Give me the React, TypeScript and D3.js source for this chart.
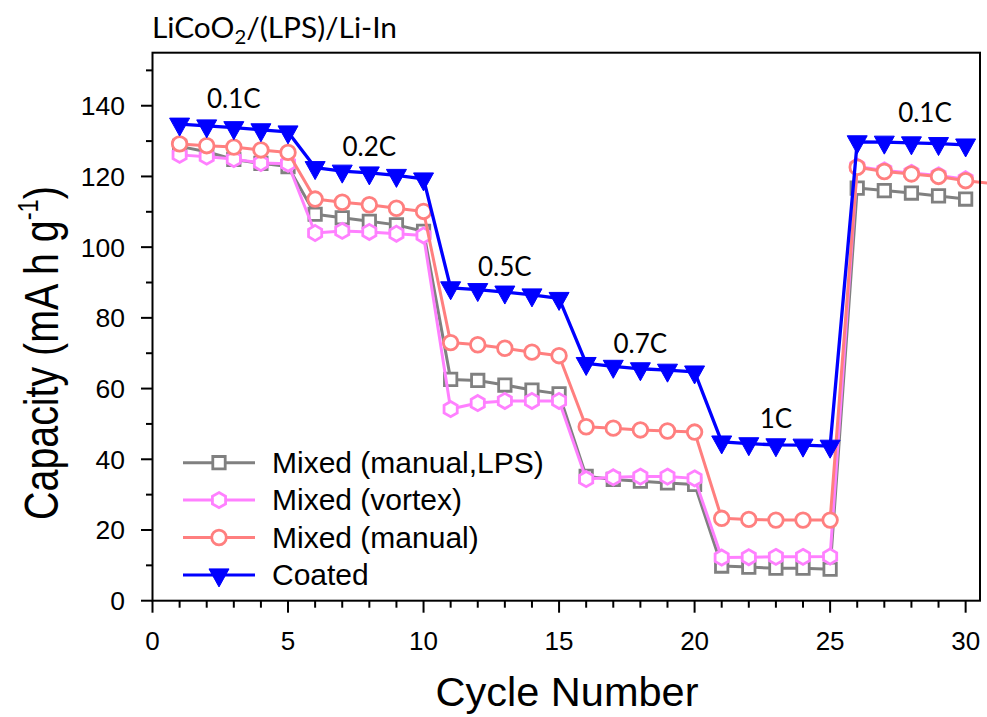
import React from "react";
import * as d3 from "d3";

const W = 987;
const H = 717;

const cycles = [1, 2, 3, 4, 5, 6, 7, 8, 9, 10, 11, 12, 13, 14, 15, 16, 17, 18, 19, 20, 21, 22, 23, 24, 25, 26, 27, 28, 29, 30, 31];

const grayValues = [128.5, 127.0, 124.8, 123.7, 122.8, 109.3, 108.3, 107.3, 106.3, 104.5, 62.6, 62.3, 61.0, 59.6, 58.5, 35.2, 34.3, 33.8, 33.3, 32.9, 9.8, 9.5, 9.2, 9.2, 8.9, 116.7, 116.0, 115.3, 114.5, 113.6];
const pinkValues = [126.1, 125.6, 124.9, 123.8, 123.6, 104.0, 104.6, 104.3, 103.8, 103.3, 54.2, 55.9, 56.5, 56.5, 56.5, 34.4, 34.9, 35.1, 35.1, 34.6, 12.2, 12.3, 12.4, 12.4, 12.5, 122.8, 121.7, 121.0, 120.3, 119.2];
const redValues = [129.2, 128.7, 128.3, 127.5, 126.8, 113.6, 112.7, 112.0, 111.0, 110.1, 73.0, 72.4, 71.4, 70.3, 69.3, 49.2, 48.8, 48.3, 48.0, 47.7, 23.3, 23.0, 22.8, 22.8, 22.8, 122.6, 121.4, 120.7, 120.0, 118.8, 118.0];
const blueValues = [134.8, 134.3, 133.8, 133.2, 132.6, 122.5, 121.5, 121.0, 120.3, 119.3, 88.5, 88.0, 87.3, 86.5, 85.5, 67.1, 66.3, 65.6, 65.2, 64.7, 44.9, 44.4, 44.1, 44.0, 43.7, 129.8, 129.7, 129.5, 129.3, 128.9];

const seriesNames = ["Mixed (manual,LPS)", "Mixed (vortex)", "Mixed (manual)", "Coated"];
const seriesColors = ["#808080", "#ff80ff", "#ff7f7f", "#0000ff"];
const seriesMarkers = ["square", "hexagon", "circle", "triangleDown"];

const rateLabels = ["0.1C", "0.2C", "0.5C", "0.7C", "1C", "0.1C"];
const rateX = [3, 8, 13, 18, 23, 28.5];
const rateY = [139.4, 125.8, 91.9, 70.1, 48.9, 135.5];

const xTicks = [0, 5, 10, 15, 20, 25, 30];
const yTicks = [0, 20, 40, 60, 80, 100, 120, 140];

const x = d3.scaleLinear().domain([0, 30.53]).range([152.5, 980]);
const y = d3.scaleLinear().domain([0, 155]).range([600.7, 52.7]);

function markerPath(kind: string): string {
  if (kind === "square") {
    const s = 6.2;
    return `M${-s},${-s}H${s}V${s}H${-s}Z`;
  }
  if (kind === "hexagon") {
    const r = 7.6;
    const pts = d3.range(6).map((i) => {
      const a = (-90 + 60 * i) * (Math.PI / 180);
      return [r * Math.cos(a), r * Math.sin(a)];
    });
    return "M" + pts.map((p) => p.join(",")).join("L") + "Z";
  }
  if (kind === "circle") {
    const r = 7.3;
    return `M${-r},0A${r},${r} 0 1,0 ${r},0A${r},${r} 0 1,0 ${-r},0Z`;
  }
  const w = 10;
  const h = 18;
  return `M${-w},${-h / 3}L${w},${-h / 3}L0,${(2 * h) / 3}Z`;
}

const AXIS_FONT = "'Liberation Sans', Arial, sans-serif";
const LABEL_FONT = "Lato, 'Open Sans', sans-serif";

export default function App() {
  const allValues = [grayValues, pinkValues, redValues, blueValues];
  const line = d3
    .line<[number, number]>()
    .x((d) => x(d[0]))
    .y((d) => y(d[1]));

  const xMinor = d3.range(0, 31, 1);
  const yMinor = d3.range(0, 151, 10);

  const legendY = [462.7, 500.1, 537.5, 574.9];

  return (
    <svg width={W} height={H} style={{ position: "absolute", left: 0, top: 0, background: "#fff" }}>
      <rect x={0} y={0} width={W} height={H} fill="#fff" />
      {allValues.map((vals, si) => {
        const pts: [number, number][] = vals.map((v, i) => [cycles[i], v]);
        const color = seriesColors[si];
        const kind = seriesMarkers[si];
        const filled = kind === "triangleDown";
        return (
          <g key={si}>
            <path d={line(pts) || ""} fill="none" stroke={color} strokeWidth={filled ? 3.3 : 3} strokeLinejoin="round" />
            {pts
              .filter((p) => p[0] <= 30)
              .map((p, i) => (
                <path
                  key={i}
                  d={markerPath(kind)}
                  transform={`translate(${x(p[0])},${y(p[1])})`}
                  fill={filled ? color : "#fff"}
                  stroke={color}
                  strokeWidth={filled ? 1 : 2.8}
                  strokeLinejoin="miter"
                />
              ))}
          </g>
        );
      })}

      <rect x={x(0)} y={y(155)} width={x(30.53) - x(0)} height={y(0) - y(155)} fill="none" stroke="#000" strokeWidth={2} />

      {xMinor.map((t) => {
        const major = t % 5 === 0;
        return <line key={"xt" + t} x1={x(t)} x2={x(t)} y1={y(0)} y2={y(0) + (major ? 12 : 7)} stroke="#000" strokeWidth={2} />;
      })}
      {xTicks.map((t) => (
        <text key={"xl" + t} x={x(t)} y={650} textAnchor="middle" fontFamily={AXIS_FONT} fontSize={26} fill="#000">
          {t}
        </text>
      ))}

      {yMinor.map((t) => {
        const major = t % 20 === 0;
        return <line key={"yt" + t} x1={x(0)} x2={x(0) - (major ? 11.5 : 6.5)} y1={y(t)} y2={y(t)} stroke="#000" strokeWidth={2} />;
      })}
      {yTicks.map((t) => (
        <text key={"yl" + t} x={125} y={y(t) + 9.5} textAnchor="end" fontFamily={AXIS_FONT} fontSize={26.5} fill="#000">
          {t}
        </text>
      ))}

      <text x={567} y={706} textAnchor="middle" fontFamily={AXIS_FONT} fontSize={41.5} fill="#000">
        Cycle Number
      </text>
      <g transform="translate(58,353) rotate(-90) scale(0.82,1)">
        <text x={0} y={0} textAnchor="middle" fontFamily={AXIS_FONT} fontSize={48} fill="#000">
          Capacity (mA h g
          <tspan fontSize={29} dy={-20}>-1</tspan>
          <tspan dy={20}>)</tspan>
        </text>
      </g>

      <text x={152} y={38} fontFamily={LABEL_FONT} fontSize={28} fill="#000" textLength={245} lengthAdjust="spacingAndGlyphs">
        LiCoO
        <tspan fontSize={19} dy={6}>2</tspan>
        <tspan dy={-6}>/(LPS)/Li-In</tspan>
      </text>

      {rateLabels.map((lab, i) => (
        <text key={"r" + i} x={x(rateX[i])} y={y(rateY[i])} textAnchor="middle" fontFamily={LABEL_FONT} fontSize={26} fill="#000">
          {lab}
        </text>
      ))}

      {seriesNames.map((name, i) => {
        const ly = legendY[i];
        const kind = seriesMarkers[i];
        const filled = kind === "triangleDown";
        return (
          <g key={"lg" + i}>
            <line x1={183} x2={255} y1={ly} y2={ly} stroke={seriesColors[i]} strokeWidth={3} />
            <path
              d={markerPath(kind)}
              transform={`translate(219,${ly})`}
              fill={filled ? seriesColors[i] : "#fff"}
              stroke={seriesColors[i]}
              strokeWidth={filled ? 1 : 2.8}
            />
            <text x={272} y={ly + 10} fontFamily={AXIS_FONT} fontSize={30} fill="#000">
              {name}
            </text>
          </g>
        );
      })}
    </svg>
  );
}
